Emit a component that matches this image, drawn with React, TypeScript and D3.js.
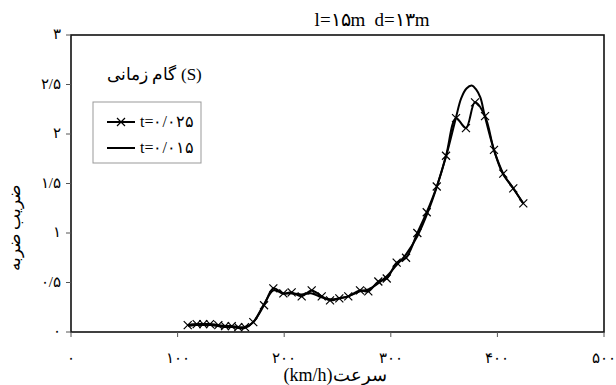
import React from 'react';
import * as d3 from 'd3';

// Series t = 0.025 (with × markers)
const speed025 = [109.5,117.9,124.1,130.4,138.2,144.5,150.8,156.9,163.2,171,181.1,189.8,199.2,207,216.4,225.8,235.2,243,251.7,260.1,271.1,278.9,288.3,296.2,305.5,314.3,324.9,333.7,343.1,351.8,361.2,370.5,379,388.4,396.8,405.5,414.9,424.3];
const impact025 = [0.07,0.08,0.08,0.08,0.07,0.06,0.06,0.05,0.05,0.10,0.27,0.44,0.39,0.40,0.36,0.42,0.36,0.32,0.34,0.36,0.42,0.41,0.51,0.54,0.70,0.75,1.0,1.21,1.47,1.78,2.16,2.06,2.32,2.18,1.84,1.60,1.45,1.30];

// Series t = 0.015 (plain line)
const speed015 = [110,118,125,131,138,145,151,157,163,171,181,190,199,207,216,226,235,243,252,260,271,279,288,296,305,314,325,334,343,352,361,366,371,376,380,384,388,397,405,415,424];
const impact015 = [0.06,0.07,0.07,0.07,0.06,0.05,0.05,0.04,0.04,0.10,0.28,0.42,0.39,0.39,0.38,0.39,0.35,0.33,0.34,0.36,0.41,0.43,0.49,0.56,0.67,0.78,0.97,1.19,1.46,1.78,2.16,2.36,2.46,2.49,2.45,2.37,2.19,1.83,1.60,1.45,1.30];

const xTicks = [0, 100, 200, 300, 400, 500];
const xTickLabels = ['۰', '۱۰۰', '۲۰۰', '۳۰۰', '۴۰۰', '۵۰۰'];
const yTicks = [0, 0.5, 1, 1.5, 2, 2.5, 3];
const yTickLabels = ['۰', '۰/۵', '۱', '۱/۵', '۲', '۲/۵', '۳'];

const titleParts = ['l=۱۵m', 'd=۱۳m'];
const xLabel = '(km/h)سرعت';
const yLabel = 'ضریب ضربه';
const legendTitleFa = 'گام زمانی';
const legendTitleUnit = '(S)';
const legendLabels = ['t=۰/۰۲۵', 't=۰/۰۱۵'];

const W = 616, H = 385;
const L = 71, R = 604, T = 35, B = 332;
const FONT = "'Times New Roman', 'Liberation Serif', 'DejaVu Serif', serif";

export default function App() {
  const x = d3.scaleLinear().domain([0, 500]).range([L, R]);
  const y = d3.scaleLinear().domain([0, 3]).range([B, T]);
  const line = d3.line<[number, number]>()
    .x(d => x(d[0]))
    .y(d => y(d[1]))
    .curve(d3.curveCatmullRom.alpha(0.5));
  const d025 = speed025.map((s, i) => [s, impact025[i]] as [number, number]);
  const d015 = speed015.map((s, i) => [s, impact015[i]] as [number, number]);
  const cross = 'M-4,-4L4,4M-4,4L4,-4';

  return (
    <svg width={W} height={H} style={{ position: 'absolute', left: 0, top: 0, background: '#fff', fontFamily: FONT }}>
      <rect x={0} y={0} width={W} height={H} fill="#fff" />
      {/* title */}
      <text x={340} y={26} textAnchor="middle" fontSize={19}>{titleParts[0]}</text>
      <text x={402} y={26} textAnchor="middle" fontSize={19}>{titleParts[1]}</text>
      {/* plot border */}
      <rect x={L} y={T} width={R - L} height={B - T} fill="none" stroke="#111" strokeWidth={1.6} />
      {/* x ticks */}
      {xTicks.map((t, i) => (
        <g key={'x' + t}>
          <line x1={x(t)} x2={x(t)} y1={B} y2={B + 5} stroke="#555" strokeWidth={1} />
          <text x={x(t)} y={363} textAnchor="middle" fontSize={15}>{xTickLabels[i]}</text>
        </g>
      ))}
      {/* y ticks */}
      {yTicks.map((t, i) => (
        <g key={'y' + t}>
          <line x1={L - 5} x2={L} y1={y(t)} y2={y(t)} stroke="#555" strokeWidth={1} />
          <text x={61} y={y(t) + 4} textAnchor="end" fontSize={15}>{yTickLabels[i]}</text>
        </g>
      ))}
      {/* axis labels */}
      <text x={335} y={381} textAnchor="middle" fontSize={18}>{xLabel}</text>
      <text transform={`translate(20,228) rotate(-90)`} textAnchor="middle" fontSize={17}>{yLabel}</text>
      {/* series */}
      <path d={line(d015) || ''} fill="none" stroke="#000" strokeWidth={2} />
      <path d={line(d025) || ''} fill="none" stroke="#000" strokeWidth={2} />
      {d025.map((p, i) => (
        <path key={'m' + i} d={cross} transform={`translate(${x(p[0])},${y(p[1])})`} stroke="#000" strokeWidth={1.2} fill="none" />
      ))}
      {/* legend */}
      <text x={176} y={80} textAnchor="end" fontSize={17}>{legendTitleFa}</text>
      <text x={181} y={80} textAnchor="start" fontSize={17}>{legendTitleUnit}</text>
      <rect x={93} y={102} width={108} height={61} fill="#fff" stroke="#999" strokeWidth={1} />
      <line x1={107} x2={135} y1={122} y2={122} stroke="#000" strokeWidth={2} />
      <path d={cross} transform="translate(121,122)" stroke="#000" strokeWidth={1.2} fill="none" />
      <text x={140} y={127} fontSize={16}>{legendLabels[0]}</text>
      <line x1={107} x2={135} y1={148} y2={148} stroke="#000" strokeWidth={2} />
      <text x={140} y={153} fontSize={16}>{legendLabels[1]}</text>
    </svg>
  );
}
